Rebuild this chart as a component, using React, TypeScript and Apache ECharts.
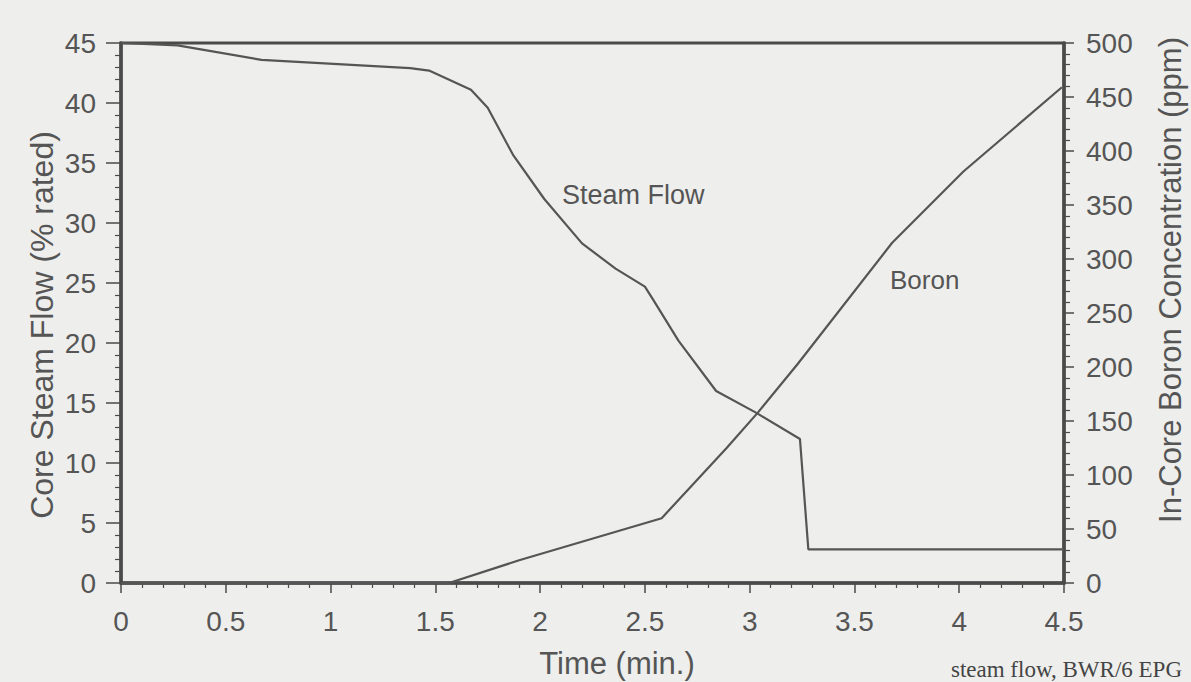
import React, { useEffect, useRef } from "react";
import * as echarts from "echarts";

// Time (min.) and core steam flow (% rated)
const steamTime = [0, 0.27, 0.67, 1.38, 1.47, 1.67, 1.75, 1.87, 2.02, 2.2, 2.36, 2.5, 2.54, 2.66, 2.84, 3.03, 3.24, 3.28, 4.5];
const steamFlow = [45, 44.8, 43.6, 42.9, 42.7, 41.1, 39.6, 35.7, 32.0, 28.3, 26.2, 24.7, 23.6, 20.2, 16.0, 14.2, 12.0, 2.8, 2.8];

// Time (min.) and in-core boron concentration (ppm)
const boronTime = [0, 1.565, 1.9, 2.58, 2.89, 3.04, 3.23, 3.68, 4.02, 4.49];
const boronPpm = [0, 0, 21, 60, 125, 158, 203, 315, 381, 459];

const FONT = "'Liberation Sans', Arial, sans-serif";
const INK = "#4a4a4a";
const TXT = "#555555";

export default function App() {
  const ref = useRef<HTMLDivElement>(null);
  useEffect(() => {
    document.body.style.margin = "0";
    const chart = echarts.init(ref.current!, null, { renderer: "svg" });
    const axisLine = { show: true, lineStyle: { color: INK, width: 3.5 } };
    chart.setOption({
      animation: false,
      backgroundColor: "#eeeeec",
      textStyle: { fontFamily: FONT },
      grid: {
        left: 121,
        right: 127,
        top: 43,
        bottom: 99,
        show: true,
        borderColor: INK,
        borderWidth: 3,
        backgroundColor: "transparent",
      },
      xAxis: {
        type: "value",
        min: 0,
        max: 4.5,
        interval: 0.5,
        axisLine,
        axisTick: { show: true, length: 10, lineStyle: { color: INK, width: 1.5 } },
        minorTick: { show: true, splitNumber: 5, length: 5, lineStyle: { color: INK, width: 1.2 } },
        splitLine: { show: false },
        minorSplitLine: { show: false },
        axisLabel: { fontSize: 28, color: TXT, margin: 24, fontFamily: FONT },
      },
      yAxis: [
        {
          type: "value",
          min: 0,
          max: 45,
          interval: 5,
          position: "left",
          axisLine,
          axisTick: { show: true, length: 15, lineStyle: { color: INK, width: 1.5 } },
          minorTick: { show: true, splitNumber: 5, length: 6, lineStyle: { color: INK, width: 1.2 } },
          splitLine: { show: false },
          axisLabel: { fontSize: 28, color: TXT, margin: 25, fontFamily: FONT },
        },
        {
          type: "value",
          min: 0,
          max: 500,
          interval: 50,
          position: "right",
          axisLine,
          axisTick: { show: true, length: 10, lineStyle: { color: INK, width: 1.5 } },
          minorTick: { show: true, splitNumber: 5, length: 6, lineStyle: { color: INK, width: 1.2 } },
          splitLine: { show: false },
          axisLabel: { fontSize: 28, color: TXT, margin: 22, fontFamily: FONT },
        },
      ],
      series: [
        {
          name: "Steam Flow",
          type: "line",
          yAxisIndex: 0,
          showSymbol: false,
          data: steamTime.map((t, i) => [t, steamFlow[i]]),
          lineStyle: { color: "#555", width: 2.2 },
        },
        {
          name: "Boron",
          type: "line",
          yAxisIndex: 1,
          showSymbol: false,
          data: boronTime.map((t, i) => [t, boronPpm[i]]),
          lineStyle: { color: "#555", width: 2.2 },
        },
      ],
      graphic: [
        {
          type: "text",
          x: 42,
          y: 325,
          rotation: Math.PI / 2,
          style: { text: "Core Steam Flow (% rated)", font: `32px ${FONT}`, fill: TXT, textAlign: "center", textVerticalAlign: "middle" },
        },
        {
          type: "text",
          x: 1170,
          y: 280,
          rotation: Math.PI / 2,
          style: { text: "In-Core Boron Concentration (ppm)", font: `31px ${FONT}`, fill: TXT, textAlign: "center", textVerticalAlign: "middle" },
        },
        {
          type: "text",
          x: 617,
          y: 663,
          style: { text: "Time (min.)", font: `31px ${FONT}`, fill: TXT, textAlign: "center", textVerticalAlign: "middle" },
        },
        {
          type: "text",
          x: 562,
          y: 195,
          style: { text: "Steam Flow", font: `27px ${FONT}`, fill: TXT, textAlign: "left", textVerticalAlign: "middle" },
        },
        {
          type: "text",
          x: 890,
          y: 280,
          style: { text: "Boron", font: `26px ${FONT}`, fill: TXT, textAlign: "left", textVerticalAlign: "middle" },
        },
        {
          type: "text",
          x: 1182,
          y: 681,
          style: { text: "steam flow, BWR/6 EPG", font: `23px 'Liberation Serif', 'DejaVu Serif', serif`, fill: "#444", textAlign: "right", textVerticalAlign: "bottom" },
        },
      ],
    });
    return () => chart.dispose();
  }, []);
  return <div ref={ref} style={{ position: "fixed", left: 0, top: 0, width: 1191, height: 682 }} />;
}
